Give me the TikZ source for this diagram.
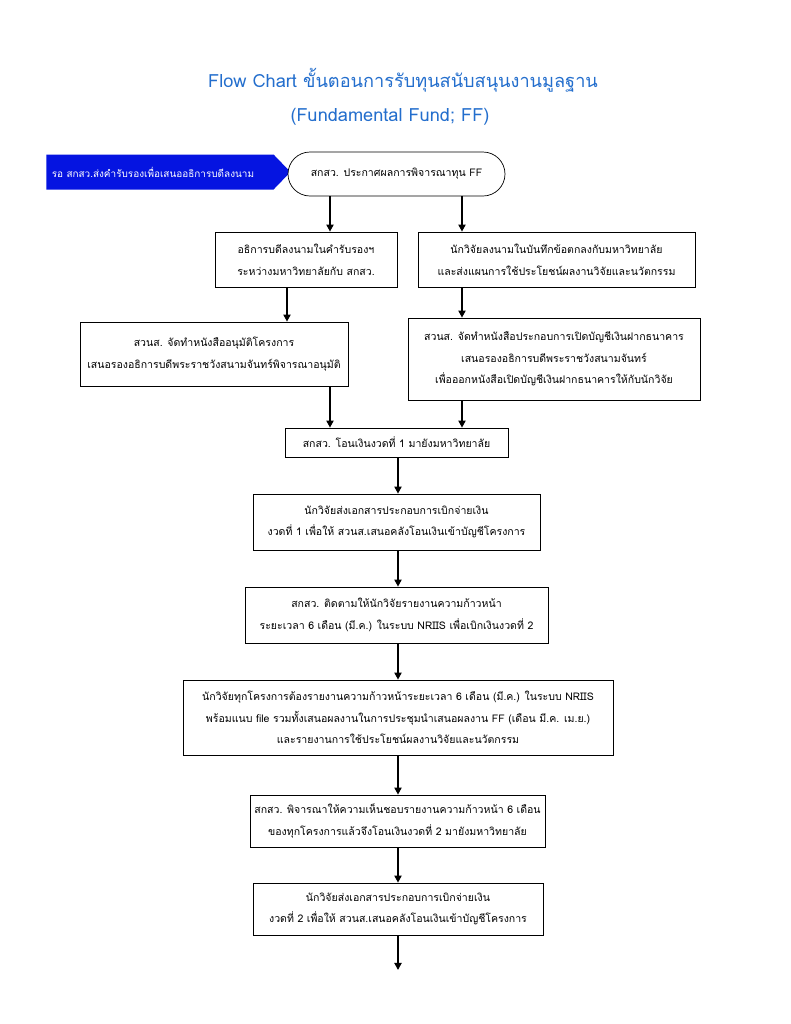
\documentclass[tikz,border=0pt]{standalone}
\usepackage{fontspec}
\setmainfont[Script=Thai]{Loma}
\usetikzlibrary{shapes.misc,shapes.symbols,arrows.meta}
\definecolor{titleblue}{RGB}{35,110,205}
\definecolor{tagblue}{RGB}{5,20,225}
\begin{document}
\begin{tikzpicture}[x=0.03cm,y=-0.03cm,
  box/.style={draw=black,line width=0.6pt,fill=white,align=center,inner sep=0pt,
    font=\fontsize{9}{18.5}\selectfont},
  arr/.style={line width=1.6pt,-{Triangle[length=6pt,width=6pt]}},
  ttl/.style={text=titleblue,font=\fontsize{15.5}{18}\selectfont}]
\useasboundingbox (0,0) rectangle (791,1024);
\fill[white] (0,0) rectangle (791,1024);
% title
\node[ttl] (t1) at (403,80) {Flow Chart ขั้นตอนการรับทุนสนับสนุนงานมูลฐาน};
\node[ttl] (t2) at (390,117) {(Fundamental Fund; FF)};
% tag arrow
\node[shape=signal,signal to=east,signal pointer angle=92,fill=tagblue,text=white,
  minimum width=244*0.03cm,minimum height=35*0.03cm,inner sep=0pt,
  font=\fontsize{8.5}{10}\selectfont] (tag) at (160,172) {รอ สกสว.ส่งคำรับรองเพื่อเสนออธิการบดีลงนาม\hspace*{12pt}};
% start
\node[box,shape=rounded rectangle,minimum width=217*0.03cm,minimum height=44*0.03cm] (start) at (396.5,174) {สกสว. ประกาศผลการพิจารณาทุน FF};
% boxes
\node[box,minimum width=182*0.03cm,minimum height=55*0.03cm] (l1) at (306,259.5) {อธิการบดีลงนามในคำรับรองฯ\\ระหว่างมหาวิทยาลัยกับ สกสว.};
\node[box,minimum width=277*0.03cm,minimum height=55*0.03cm] (r1) at (556.5,259.5) {นักวิจัยลงนามในบันทึกข้อตกลงกับมหาวิทยาลัย\\และส่งแผนการใช้ประโยชน์ผลงานวิจัยและนวัตกรรม};
\node[box,minimum width=268*0.03cm,minimum height=64*0.03cm] (l2) at (214,354) {สวนส. จัดทำหนังสืออนุมัติโครงการ\\เสนอรองอธิการบดีพระราชวังสนามจันทร์พิจารณาอนุมัติ};
\node[box,minimum width=292*0.03cm,minimum height=82*0.03cm] (r2) at (554,359) {สวนส. จัดทำหนังสือประกอบการเปิดบัญชีเงินฝากธนาคาร\\เสนอรองอธิการบดีพระราชวังสนามจันทร์\\เพื่อออกหนังสือเปิดบัญชีเงินฝากธนาคารให้กับนักวิจัย};
\node[box,minimum width=223*0.03cm,minimum height=29*0.03cm] (m1) at (396.5,442.5) {สกสว. โอนเงินงวดที่ 1 มายังมหาวิทยาลัย};
\node[box,minimum width=287*0.03cm,minimum height=56*0.03cm] (m2) at (396.5,522) {นักวิจัยส่งเอกสารประกอบการเบิกจ่ายเงิน\\งวดที่ 1 เพื่อให้ สวนส.เสนอคลังโอนเงินเข้าบัญชีโครงการ};
\node[box,minimum width=303*0.03cm,minimum height=56*0.03cm] (m3) at (396.5,615) {สกสว. ติดตามให้นักวิจัยรายงานความก้าวหน้า\\ระยะเวลา 6 เดือน (มี.ค.) ในระบบ NRIIS เพื่อเบิกเงินงวดที่ 2};
\node[box,minimum width=430*0.03cm,minimum height=75*0.03cm] (m4) at (398,717.5) {นักวิจัยทุกโครงการต้องรายงานความก้าวหน้าระยะเวลา 6 เดือน (มี.ค.) ในระบบ NRIIS\\พร้อมแนบ file รวมทั้งเสนอผลงานในการประชุมนำเสนอผลงาน FF (เดือน มี.ค. เม.ย.)\\และรายงานการใช้ประโยชน์ผลงานวิจัยและนวัตกรรม};
\node[box,minimum width=295*0.03cm,minimum height=52*0.03cm] (m5) at (397.5,821) {สกสว. พิจารณาให้ความเห็นชอบรายงานความก้าวหน้า 6 เดือน\\ของทุกโครงการแล้วจึงโอนเงินงวดที่ 2 มายังมหาวิทยาลัย};
\node[box,minimum width=290*0.03cm,minimum height=52*0.03cm] (m6) at (398,909) {นักวิจัยส่งเอกสารประกอบการเบิกจ่ายเงิน\\งวดที่ 2 เพื่อให้ สวนส.เสนอคลังโอนเงินเข้าบัญชีโครงการ};
% column coordinates
\coordinate (xa) at (330,0);
\coordinate (xb) at (462,0);
\coordinate (xc) at (287,0);
\coordinate (xm) at (398,0);
\coordinate (endp) at (398,970);
% connectors
\draw[arr] (start.south -| xa) -- (l1.north -| xa);
\draw[arr] (start.south -| xb) -- (r1.north -| xb);
\draw[arr] (l1.south -| xc) -- (l2.north -| xc);
\draw[arr] (r1.south -| xb) -- (r2.north -| xb);
\draw[arr] (l2.south -| xa) -- (m1.north -| xa);
\draw[arr] (r2.south -| xb) -- (m1.north -| xb);
\draw[arr] (m1.south -| xm) -- (m2.north -| xm);
\draw[arr] (m2.south -| xm) -- (m3.north -| xm);
\draw[arr] (m3.south -| xm) -- (m4.north -| xm);
\draw[arr] (m4.south -| xm) -- (m5.north -| xm);
\draw[arr] (m5.south -| xm) -- (m6.north -| xm);
\draw[arr] (m6.south -| xm) -- (endp);
\end{tikzpicture}
\end{document}
